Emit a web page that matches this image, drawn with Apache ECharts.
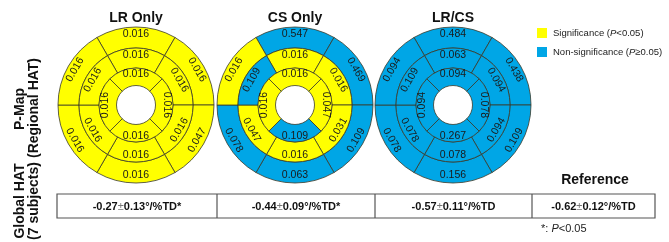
<!DOCTYPE html>
<html lang="en">
<head>
<meta charset="UTF-8">
<title>P-Map bullseye</title>
<script src="https://cdn.jsdelivr.net/npm/echarts@6.0.0/dist/echarts.min.js"></script>
<style>
  html, body { margin: 0; padding: 0; background: #fff; }
</style>
</head>
<body>
<div id="main" style="width:669px;height:242px;"></div>
<script type="text/javascript">
// panel titles
const panelTitles = ['LR Only', 'CS Only', 'LR/CS'];

// p-values per ring, clockwise from the top segment
const lrOnlyOuter = [0.016, 0.016, 0.047, 0.016, 0.016, 0.016];
const lrOnlyMiddle = [0.016, 0.016, 0.016, 0.016, 0.016, 0.016];
const lrOnlyInner = [0.016, 0.016, 0.016, 0.016];

const csOnlyOuter = [0.547, 0.469, 0.109, 0.063, 0.078, 0.016];
const csOnlyMiddle = [0.016, 0.016, 0.031, 0.016, 0.047, 0.109];
const csOnlyInner = [0.016, 0.047, 0.109, 0.016];

const lrCsOuter = [0.484, 0.438, 0.109, 0.156, 0.078, 0.094];
const lrCsMiddle = [0.063, 0.094, 0.094, 0.078, 0.078, 0.109];
const lrCsInner = [0.094, 0.078, 0.267, 0.094];

// global HAT row (last one is the reference)
const globalMean = [-0.27, -0.44, -0.57, -0.62];
const globalSd = [0.13, 0.09, 0.11, 0.12];
const globalSig = [true, true, false, false];

const YELLOW = '#ffff00';
const BLUE = '#00a6e6';
const LINE = '#3a3a2a';

const centersX = [136, 295, 453];
const cy = 105;

function ring(values, cx, r0, r1, startAngle) {
  const step = 360 / values.length;
  return {
    type: 'pie',
    center: [cx, cy],
    radius: [r0, r1],
    startAngle: startAngle,
    clockwise: true,
    silent: true,
    animation: false,
    labelLine: { show: false },
    label: {
      show: true,
      position: 'inside',
      fontFamily: 'Liberation Sans',
      fontSize: 10.5,
      color: '#1a1a1a',
      formatter: p => p.data.p.toFixed(3)
    },
    itemStyle: { borderColor: LINE, borderWidth: 0.8 },
    data: values.map((v, i) => {
      // tangential text, kept readable
      let a = startAngle - step * (i + 0.5);
      while (a <= -180) a += 360;
      while (a > 180) a -= 360;
      const rot = a >= 0 ? a - 90 : a + 90;
      return {
        name: 's' + i,
        value: 1,
        p: v,
        itemStyle: { color: v < 0.05 ? YELLOW : BLUE },
        label: { rotate: rot }
      };
    })
  };
}

const rings = [
  [lrOnlyOuter, lrOnlyMiddle, lrOnlyInner],
  [csOnlyOuter, csOnlyMiddle, csOnlyInner],
  [lrCsOuter, lrCsMiddle, lrCsInner]
];

const series = [];
rings.forEach((r, k) => {
  const cx = centersX[k];
  series.push(ring(r[0], cx, 57, 78, 120));
  series.push(ring(r[1], cx, 37, 57, 120));
  series.push(ring(r[2], cx, 19.5, 37, 135));
});

const graphic = [];
panelTitles.forEach((t, k) => {
  graphic.push({
    type: 'text', x: centersX[k], y: 18,
    style: { text: t, align: 'center', verticalAlign: 'middle',
      font: 'bold 14px "Liberation Sans"', fill: '#111' }
  });
});

// legend
[['Significance (', YELLOW, '{i|P}<0.05)', 33], ['Non-significance (', BLUE, '{i|P}\u22650.05)', 52]].forEach(l => {
  graphic.push({ type: 'rect', shape: { x: 537, y: l[3] - 5, width: 10, height: 10 },
    style: { fill: l[1] } });
  graphic.push({
    type: 'text', x: 553, y: l[3],
    style: {
      text: l[0] + l[2], verticalAlign: 'middle',
      font: '9.5px "Liberation Sans"', fill: '#222',
      rich: { i: { fontStyle: 'italic', fontSize: 9.5, fontFamily: 'Liberation Sans', fill: '#222' } }
    }
  });
});

// row labels (rotated)
[['P-Map', 20, 109], ['(Regional HAT)', 34, 108], ['Global HAT', 20, 201], ['(7 subjects)', 34, 201]].forEach(l => {
  graphic.push({
    type: 'text', x: l[1], y: l[2], rotation: Math.PI / 2,
    style: { text: l[0], align: 'center', verticalAlign: 'middle',
      font: 'bold 14px "Liberation Sans"', fill: '#111' }
  });
});

// global HAT table
const cellEdges = [57, 217, 375, 532, 655];
graphic.push({ type: 'rect', shape: { x: 57, y: 194, width: 598, height: 24 },
  style: { fill: 'none', stroke: '#555', lineWidth: 1.2 } });
for (let i = 1; i < cellEdges.length - 1; i++) {
  graphic.push({ type: 'line', shape: { x1: cellEdges[i], y1: 194, x2: cellEdges[i], y2: 218 },
    style: { stroke: '#555', lineWidth: 1.2 } });
}
globalMean.forEach((m, i) => {
  graphic.push({
    type: 'text', x: (cellEdges[i] + cellEdges[i + 1]) / 2, y: 206.5,
    style: {
      text: m.toFixed(2) + '{pm|\u00b1}' + globalSd[i].toFixed(2) + '\u00b0/%TD' + (globalSig[i] ? '*' : ''),
      align: 'center', verticalAlign: 'middle',
      font: 'bold 11px "Liberation Sans"', fill: '#111',
      rich: { pm: { fontWeight: 'normal', fontSize: 11, fontFamily: 'Liberation Sans', fill: '#777' } }
    }
  });
});
graphic.push({
  type: 'text', x: 595, y: 180,
  style: { text: 'Reference', align: 'center', verticalAlign: 'middle',
    font: 'bold 14px "Liberation Sans"', fill: '#111' }
});
graphic.push({
  type: 'text', x: 541, y: 229,
  style: { text: '*: {i|P}<0.05', verticalAlign: 'middle',
    font: '11px "Liberation Sans"', fill: '#222',
    rich: { i: { fontStyle: 'italic', fontSize: 11, fontFamily: 'Liberation Sans', fill: '#222' } } }
});

const chart = echarts.init(document.getElementById('main'));
chart.setOption({
  animation: false,
  series: series,
  graphic: graphic
});
</script>
</body>
</html>
